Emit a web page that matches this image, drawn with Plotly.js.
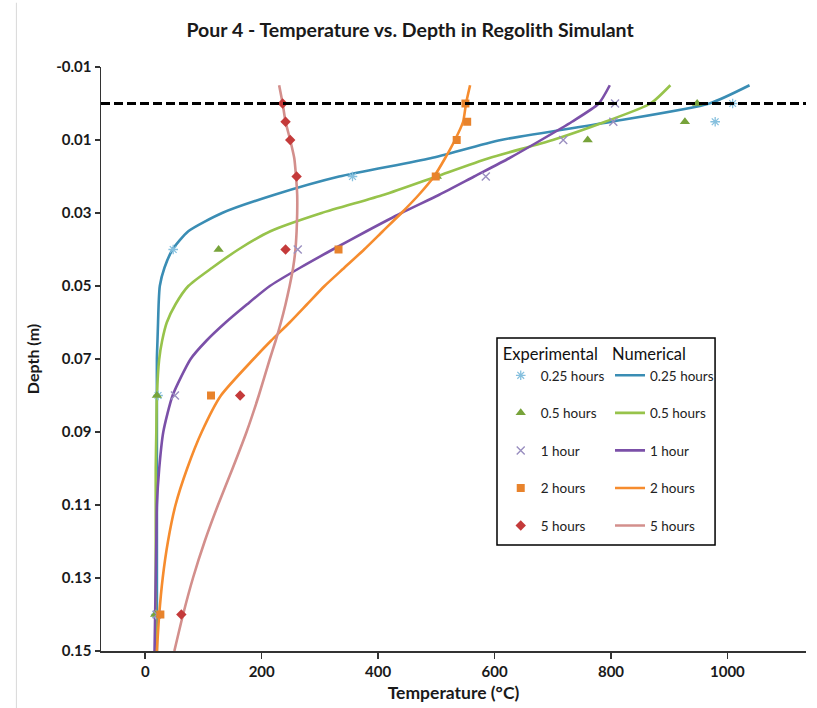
<!DOCTYPE html>
<html>
<head>
<meta charset="utf-8">
<script src="https://cdn.plot.ly/plotly-3.0.1.min.js"></script>
<style>
  html, body { margin: 0; padding: 0; background: #ffffff; }
  #chart { width: 817px; height: 708px; }
</style>
</head>
<body>
<div id="chart"></div>
<script>
// ---- Data ----
const seriesNames = ["0.25 hours", "0.5 hours", "1 hour", "2 hours", "5 hours"];

// Experimental (markers)
const depthsExp = [0, 0.005, 0.01, 0.02, 0.04, 0.08, 0.14];
const exp025 = [1009, 979, null, 356, 48, 22, 18];
const exp05  = [948, 927, 760, 501, 126, 20, 17];
const exp1   = [807, 804, 718, 585, 262, 51, 20];
const exp2   = [550, 553, 535, 499, 332, 113, 26];
const exp5   = [236, 241, 249, 260, 241, 163, 62];

// Numerical (lines)
const depthsNum = [-0.005, 0, 0.005, 0.01, 0.015, 0.02, 0.025, 0.03, 0.035, 0.04, 0.045, 0.05,
                   0.055, 0.06, 0.065, 0.07, 0.08, 0.09, 0.1, 0.11, 0.12, 0.13, 0.14, 0.15];
const num025 = [1038, 969, 801, 611, 490, 333, 222, 132, 74, 47, 33, 25, 23, 22, 21, 20, 20, 20, 20, 20, 20, 20, 20, 20];
const num05  = [902, 868, 790, 700, 590, 500, 410, 303, 215, 160, 115, 74, 52, 37, 29, 24, 20, 19, 18, 18, 18, 18, 18, 18];
const num1   = [798, 779, 733, 680, 625, 565, 505, 440, 380, 322, 266, 214, 175, 138, 105, 78, 47, 31, 24, 20, 19, 18, 17, 16];
const num2   = [558, 551, 546, 532, 515, 496, 470, 440, 408, 376, 342, 308, 278, 248, 216, 186, 130, 97, 72, 52, 39, 30, 24, 20];
const num5   = [230, 236, 241, 249, 256, 259, 261, 261, 260, 258, 254, 248, 241, 233, 224, 214, 195, 174, 150, 125, 102, 82, 65, 50];

const surfaceDepth = 0;

const xTickVals = [0, 200, 400, 600, 800, 1000];
const xTickText = ["0", "200", "400", "600", "800", "1000"];
const yTickVals = [-0.01, 0.01, 0.03, 0.05, 0.07, 0.09, 0.11, 0.13, 0.15];
const yTickText = ["-0.01", "0.01", "0.03", "0.05", "0.07", "0.09", "0.11", "0.13", "0.15"];

// ---- Styles ----
const FONT = "Lato, 'Open Sans', sans-serif";
const expVals = [exp025, exp05, exp1, exp2, exp5];
const numVals = [num025, num05, num1, num2, num5];
const markerStyles = [
  {symbol: "asterisk-open", color: "#86c0de", size: 8, line: {color: "#86c0de", width: 1.3}},
  {symbol: "triangle-up", color: "#77a33a", size: 9, line: {width: 0}},
  {symbol: "x-thin-open", color: "#9a8fc0", size: 8, line: {color: "#9a8fc0", width: 1.4}},
  {symbol: "square", color: "#e8832c", size: 8, line: {width: 0}},
  {symbol: "diamond", color: "#c43a3a", size: 8, line: {width: 0}}
];
const lineColors = ["#3a8db4", "#97c34b", "#7b50a8", "#f68c2e", "#d38f8c"];

const traces = [];
for (let i = 0; i < 5; i++) {
  traces.push({
    x: numVals[i], y: depthsNum, type: "scatter", mode: "lines",
    name: seriesNames[i], legend: "legend2", legendgroup: "n" + i,
    line: {color: lineColors[i], width: 2.6, shape: "spline", smoothing: 0.6},
    hoverinfo: "x+y"
  });
}
for (let i = 0; i < 5; i++) {
  traces.push({
    x: expVals[i], y: depthsExp, type: "scatter", mode: "markers",
    name: seriesNames[i], legend: "legend", legendgroup: "e" + i,
    marker: markerStyles[i], hoverinfo: "x+y"
  });
}

const legendBase = {
  bgcolor: "rgba(0,0,0,0)", borderwidth: 0,
  font: {family: FONT, size: 13.5, color: "#222"},
  title: {font: {family: FONT, size: 16.5, color: "#111"}, side: "top"},
  traceorder: "grouped", tracegroupgap: 17,
  xanchor: "left", yanchor: "top", itemwidth: 30
};

const layout = {
  width: 817, height: 708,
  paper_bgcolor: "#ffffff", plot_bgcolor: "#ffffff",
  margin: {l: 101, r: 11, t: 67, b: 57},
  title: {
    text: "Pour 4 - Temperature vs. Depth in Regolith Simulant",
    font: {family: FONT, size: 19.5, color: "#1a1a1a", weight: "bold"},
    x: 0.502, xref: "container", xanchor: "center", y: 0.958, yanchor: "middle"
  },
  xaxis: {
    range: [-76, 1135], showgrid: false, zeroline: false,
    tickvals: xTickVals, ticktext: xTickText,
    ticks: "outside", ticklen: 6, tickwidth: 1.5, tickcolor: "#333",
    showline: true, linecolor: "#333", linewidth: 1.5,
    tickfont: {family: FONT, size: 15, color: "#1a1a1a", weight: "bold"},
    title: {text: "Temperature (°C)", font: {family: FONT, size: 17.5, color: "#1a1a1a", weight: "bold"}, standoff: 8}
  },
  yaxis: {
    range: [0.15, -0.01], showgrid: false, zeroline: false,
    tickvals: yTickVals, ticktext: yTickText,
    ticks: "outside", ticklen: 5, tickwidth: 1.5, tickcolor: "#333",
    showline: true, linecolor: "#333", linewidth: 1.5,
    tickfont: {family: FONT, size: 15, color: "#1a1a1a", weight: "bold"},
    title: {text: "Depth (m)", font: {family: FONT, size: 16, color: "#1a1a1a", weight: "bold"}, standoff: 12}
  },
  legend: Object.assign({}, legendBase, {x: 0.567, y: 0.535, title: Object.assign({}, legendBase.title, {text: "Experimental"})}),
  legend2: Object.assign({}, legendBase, {x: 0.722, y: 0.535, title: Object.assign({}, legendBase.title, {text: "Numerical"})}),
  shapes: [
    {type: "line", xref: "paper", yref: "y", x0: 0, x1: 1.0, y0: surfaceDepth, y1: surfaceDepth,
     line: {color: "#000", width: 3, dash: "9px,4px"}},
    {type: "rect", xref: "paper", yref: "paper", x0: 0.5617, x1: 0.871, y0: 0.1815, y1: 0.536,
     line: {color: "#000", width: 1.5}, fillcolor: "rgba(0,0,0,0)"},
    {type: "line", xref: "paper", yref: "paper", x0: -0.12, x1: -0.12, y0: -0.1, y1: 1.11,
     line: {color: "#d8d8d8", width: 1}}
  ]
};

Plotly.newPlot("chart", traces, layout, {displayModeBar: false, staticPlot: true});
</script>
</body>
</html>
